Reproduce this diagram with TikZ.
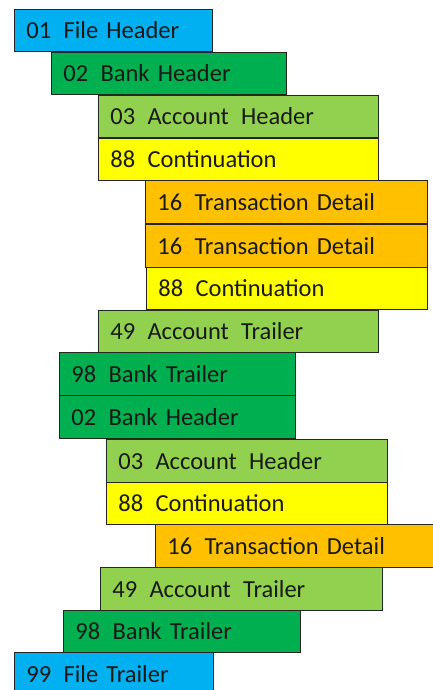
\documentclass[tikz,border=0pt]{standalone}
\usepackage{fontspec}
\setmainfont{Carlito}
\definecolor{cblue}{HTML}{00B0F0}
\definecolor{cdgreen}{HTML}{00B050}
\definecolor{clgreen}{HTML}{92D050}
\definecolor{cyellow}{HTML}{FFFF00}
\definecolor{corange}{HTML}{FFC000}
\definecolor{cborder}{HTML}{262626}
\newcommand\gap{\hspace{0.5em}}
\begin{document}
\begin{tikzpicture}[x=1pt,y=-1pt,
  rec/.style n args={3}{draw=cborder, line width=0.9pt, fill=#1, anchor=north west,
    inner xsep=12pt, inner ysep=0pt, text width=#2-24pt, minimum height=#3, align=left,
    font=\fontsize{24.5}{28}\selectfont, text=black!90},
]
\useasboundingbox (0,0) rectangle (433,690);
\clip (0,0) rectangle (433,690);
\node[rec={cblue}{198pt}{42pt}] (a1) at (14,9) {01\gap File Header};
\node[rec={cdgreen}{235pt}{42pt}] (a2) at (51,52) {02\gap Bank Header};
\node[rec={clgreen}{280pt}{42pt}] (a3) at (98,95) {03\gap Account\gap Header};
\node[rec={cyellow}{280pt}{42pt}] (a4) at (98,138) {88\gap Continuation};
\node[rec={corange}{282pt}{43pt}] (a5) at (145,180) {16\gap Transaction Detail};
\node[rec={corange}{282pt}{43pt}] (a6) at (145,224) {16\gap Transaction Detail};
\node[rec={cyellow}{281pt}{42pt}] (a7) at (146,267) {88\gap Continuation};
\node[rec={clgreen}{280pt}{42pt}] (a8) at (98,310) {49\gap Account\gap Trailer};
\node[rec={cdgreen}{236pt}{43pt}] (a9) at (59,352) {98\gap Bank Trailer};
\node[rec={cdgreen}{236pt}{43pt}] (a10) at (59,395) {02\gap Bank Header};
\node[rec={clgreen}{281pt}{43pt}] (a11) at (106,439) {03\gap Account\gap Header};
\node[rec={cyellow}{281pt}{42pt}] (a12) at (106,482) {88\gap Continuation};
\node[rec={corange}{290pt}{43pt}] (a13) at (155,524) {16\gap Transaction Detail};
\node[rec={clgreen}{282pt}{43pt}] (a14) at (100,567) {49\gap Account\gap Trailer};
\node[rec={cdgreen}{237pt}{42pt}] (a15) at (63,610) {98\gap Bank Trailer};
\node[rec={cblue}{199pt}{43pt}] (a16) at (14,652) {99\gap File Trailer};
\end{tikzpicture}
\end{document}
